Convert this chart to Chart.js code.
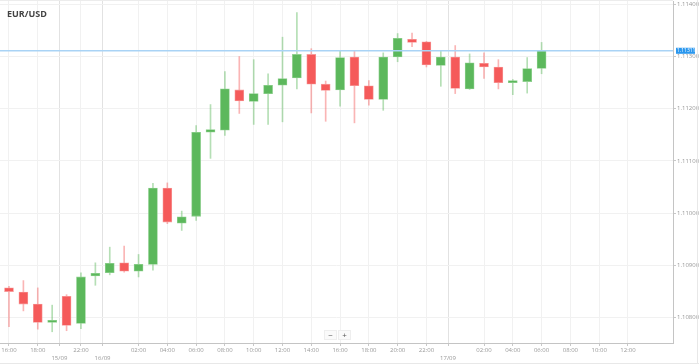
<!DOCTYPE html>
<html>
<head>
<meta charset="utf-8">
<script src="https://cdn.jsdelivr.net/npm/chart.js@4.4.1/dist/chart.umd.min.js"></script>
<style>
  html, body { margin: 0; padding: 0; background: #fff; }
  #wrap { position: relative; width: 699px; height: 364px; overflow: hidden; }
  #grafico { position: absolute; left: 0; top: 0; }
  #titulo { position: absolute; left: 7px; top: 7px; font: bold 9px 'Open Sans', sans-serif; color: #444; }
  #zoom { position: absolute; left: 324px; top: 330px; display: flex; gap: 1px; }
  #zoom span { width: 11px; height: 8px; background: #fafafa; border: 1px solid #eee; font: 8px/8px 'Open Sans', sans-serif; color: #555; text-align: center; }
  #marco { position: absolute; right: 1px; top: 0; bottom: 1px; width: 0; border-right: 1px solid #e8e8e8; }
  #marcoInf { position: absolute; left: 0; right: 0; bottom: 0; height: 0; border-bottom: 1px solid #e8e8e8; }
  #marcoSup { position: absolute; left: 0; right: 26px; top: 0; height: 0; border-top: 1px solid #ececec; }
</style>
</head>
<body>
<div id="wrap">
  <canvas id="grafico" width="699" height="364"></canvas>
  <div id="marcoSup"></div>
  <div id="titulo">EUR/USD</div>
  <div id="zoom"><span>&minus;</span><span>+</span></div>
  <div id="marco"></div>
  <div id="marcoInf"></div>
</div>
<script>
// Velas horarias EUR/USD (hora de cada vela)
const candleTimes = [
  '16:00', '17:00', '18:00', '19:00', '21:00', '22:00', '23:00',
  '00:00', '01:00', '02:00', '03:00', '04:00', '05:00', '06:00', '07:00', '08:00', '09:00', '10:00', '11:00',
  '12:00', '13:00', '14:00', '15:00', '16:00', '17:00', '18:00', '19:00', '20:00', '21:00', '22:00', '23:00',
  '00:00', '01:00', '02:00', '03:00', '04:00', '05:00', '06:00'
];

const opens = [
  1.10857, 1.10849, 1.10826, 1.10791, 1.10841, 1.10789, 1.10880, 1.10886, 1.10905, 1.10889,
  1.10902, 1.11048, 1.10981, 1.10994, 1.11155, 1.11159, 1.11236, 1.11214, 1.11229, 1.11245,
  1.11259, 1.11304, 1.11247, 1.11236, 1.11299, 1.11244, 1.11218, 1.11299, 1.11333, 1.11328,
  1.11283, 1.11299, 1.11238, 1.11287, 1.11280, 1.11250, 1.11252, 1.11277
];
const highs = [
  1.10860, 1.10871, 1.10857, 1.10824, 1.10844, 1.10886, 1.10905, 1.10935, 1.10937, 1.10921,
  1.11057, 1.11058, 1.11004, 1.11168, 1.11208, 1.11271, 1.11300, 1.11294, 1.11267, 1.11337,
  1.11384, 1.11315, 1.11253, 1.11311, 1.11310, 1.11254, 1.11307, 1.11344, 1.11345, 1.11329,
  1.11310, 1.11321, 1.11305, 1.11307, 1.11294, 1.11256, 1.11298, 1.11327
];
const lows = [
  1.10783, 1.10813, 1.10778, 1.10773, 1.10775, 1.10779, 1.10862, 1.10882, 1.10887, 1.10878,
  1.10891, 1.10980, 1.10967, 1.10986, 1.11105, 1.11149, 1.11191, 1.11170, 1.11170, 1.11175,
  1.11238, 1.11192, 1.11176, 1.11205, 1.11173, 1.11207, 1.11197, 1.11290, 1.11319, 1.11280,
  1.11243, 1.11229, 1.11237, 1.11258, 1.11238, 1.11227, 1.11230, 1.11267
];
const closes = [
  1.10850, 1.10826, 1.10791, 1.10792, 1.10785, 1.10878, 1.10885, 1.10904, 1.10889, 1.10902,
  1.11048, 1.10983, 1.10993, 1.11155, 1.11160, 1.11238, 1.11215, 1.11229, 1.11245, 1.11258,
  1.11304, 1.11247, 1.11235, 1.11298, 1.11244, 1.11218, 1.11299, 1.11335, 1.11327, 1.11284,
  1.11299, 1.11239, 1.11288, 1.11280, 1.11250, 1.11254, 1.11277, 1.11311
];

// Cambios de día (índice de la primera vela del día)
const dayLabels = ['15/09', '16/09', '17/09'];
const dayStarts = [4, 7, 31];

// Ticks del eje de precios
const priceTicks = [1.108, 1.109, 1.110, 1.111, 1.112, 1.113, 1.114];

const lastPrice = closes[closes.length - 1];

/* ========= EJE DE TIEMPO ========= */

// se extiende el eje unas horas después de la última vela (hasta las 12:00)
const axisTimes = candleTimes.slice();
while (axisTimes.length < 44) {
  const h = (parseInt(axisTimes[axisTimes.length - 1]) + 1) % 24;
  axisTimes.push(String(h).padStart(2, '0') + ':00');
}

const xTickLabels = {};
axisTimes.forEach((t, i) => {
  const h = parseInt(t);
  if (h % 2 === 0 && h !== 0) xTickLabels[i] = t;
});
dayStarts.forEach((idx, k) => { xTickLabels[idx - 0.5] = ['', dayLabels[k]]; });
const xTickValues = Object.keys(xTickLabels).map(Number).sort((a, b) => a - b);

/* ========= COLORES ========= */

const verde = '#5cb85c';
const rojo = '#f55a5a';
const esAlcista = i => closes[i] >= opens[i];

// línea y etiqueta del último precio
const ultimoPrecio = {
  id: 'ultimoPrecio',
  afterDatasetsDraw(chart) {
    const { ctx, chartArea, scales } = chart;
    const y = scales.y.getPixelForValue(lastPrice);
    ctx.save();
    ctx.strokeStyle = '#a9d3f5';
    ctx.lineWidth = 1.5;
    ctx.beginPath();
    ctx.moveTo(chartArea.left, y);
    ctx.lineTo(chartArea.right, y);
    ctx.stroke();
    ctx.fillStyle = '#2a97ee';
    ctx.fillRect(chartArea.right + 3, y - 3, 19, 6);
    ctx.fillStyle = '#fff';
    ctx.font = '5px "Open Sans", sans-serif';
    ctx.textBaseline = 'middle';
    ctx.fillText(lastPrice.toFixed(5), chartArea.right + 4, y + 0.3);
    ctx.restore();
  }
};

new Chart(document.getElementById('grafico'), {
  type: 'bar',
  data: {
    datasets: [
      {
        label: 'Cuerpo',
        data: opens.map((o, i) => ({ x: i, y: [o, closes[i]] })),
        backgroundColor: c => esAlcista(c.dataIndex) ? verde : rojo,
        borderColor: c => esAlcista(c.dataIndex) ? '#8fd08f' : '#f79a9a',
        borderWidth: 0.8,
        borderSkipped: false,
        barThickness: 9,
        minBarLength: 2,
        grouped: false
      },
      {
        label: 'Mecha',
        data: lows.map((l, i) => ({ x: i, y: [l, highs[i]] })),
        backgroundColor: c => esAlcista(c.dataIndex) ? 'rgba(92,184,92,0.45)' : 'rgba(245,90,90,0.45)',
        barThickness: 1,
        grouped: false
      }
    ]
  },
  options: {
    responsive: false,
    animation: false,
    layout: { padding: { top: 1, left: 0, right: 0, bottom: 0 } },
    plugins: { legend: { display: false }, tooltip: { enabled: false } },
    scales: {
      x: {
        type: 'linear',
        offset: false,
        min: -0.625,
        max: 46.13,
        afterBuildTicks: s => { s.ticks = xTickValues.map(v => ({ value: v })); },
        afterFit: s => { s.height = 21; s.paddingLeft = 0; s.paddingRight = 0; },
        grid: {
          offset: false,
          color: c => (c.tick && !Number.isInteger(c.tick.value)) ? '#e2e2e2' : '#f1f1f1',
          tickLength: 3,
          tickColor: '#c8c8c8'
        },
        border: { color: '#c4c4c4' },
        ticks: {
          autoSkip: false,
          maxRotation: 0,
          padding: 1,
          color: '#999',
          font: { family: 'Open Sans', size: 6 },
          callback: v => xTickLabels[v]
        }
      },
      y: {
        position: 'right',
        min: 1.107515,
        max: 1.114063,
        afterBuildTicks: s => { s.ticks = priceTicks.map(v => ({ value: v })); },
        afterFit: s => { s.width = 26; s.paddingTop = 0; s.paddingBottom = 0; },
        grid: { color: '#f1f1f1', tickLength: 3, tickColor: '#c8c8c8' },
        border: { color: '#c4c4c4' },
        ticks: {
          padding: 1,
          color: '#999',
          font: { family: 'Open Sans', size: 6 },
          callback: v => v.toFixed(5)
        }
      }
    }
  },
  plugins: [ultimoPrecio]
});
</script>
</body>
</html>
